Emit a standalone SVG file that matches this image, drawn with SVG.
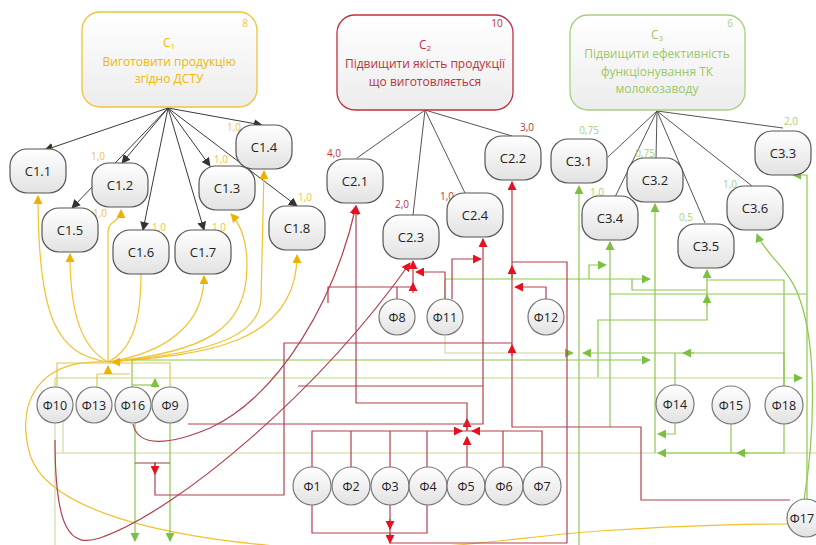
<svg xmlns="http://www.w3.org/2000/svg" width="816" height="545" viewBox="0 0 816 545">
<defs>
<linearGradient id="gf" x1="0" y1="0" x2="0" y2="1"><stop offset="0" stop-color="#ffffff"/><stop offset="1" stop-color="#e2e2e2"/></linearGradient>
<linearGradient id="gb" x1="0" y1="0" x2="0" y2="1"><stop offset="0" stop-color="#ffffff"/><stop offset="1" stop-color="#ececec"/></linearGradient>
<marker id="ab" viewBox="0 0 10 10" refX="9" refY="5" markerWidth="9" markerHeight="9" markerUnits="userSpaceOnUse" orient="auto"><polygon points="0,0 10,5 0,10" fill="#333"/></marker>
<marker id="ay" viewBox="0 0 10 10" refX="9" refY="5" markerWidth="9" markerHeight="9" markerUnits="userSpaceOnUse" orient="auto"><polygon points="0,0 10,5 0,10" fill="#f0b000"/></marker>
<marker id="ar" viewBox="0 0 10 10" refX="9" refY="5" markerWidth="9" markerHeight="9" markerUnits="userSpaceOnUse" orient="auto"><polygon points="0,0 10,5 0,10" fill="#e8101c"/></marker>
<marker id="ag" viewBox="0 0 10 10" refX="9" refY="5" markerWidth="9" markerHeight="9" markerUnits="userSpaceOnUse" orient="auto"><polygon points="0,0 10,5 0,10" fill="#7cc040"/></marker>
</defs>
<style>
text{font-family:"Open Sans","Noto Sans","Liberation Sans",sans-serif;text-anchor:middle}
.goal rect{fill:url(#gb);stroke-width:1.3}
.sub rect{fill:url(#gf);stroke:#555;stroke-width:1.2}
.sub text{font-size:13px;fill:#222}
.phi circle{fill:url(#gf);stroke:#777;stroke-width:1.2}
.phi text{font-size:12.5px;fill:#222}
.gt{font-size:12px}
#connectors path{fill:none}
.k{stroke:#3a3a3a;stroke-width:1}
.kg{stroke:#555;stroke-width:1}
.y{stroke:#f2c12e;stroke-width:1.2}
.yo{stroke:#e0c850;stroke-width:1.2}
.r{stroke:#b2404d;stroke-width:1.2}
.g{stroke:#8cc84b;stroke-width:1.2}
.gl{stroke:#b8d98e;stroke-width:1.1}
.ol{stroke:#cdd69a;stroke-width:1.1}
.br{stroke:#8b4a40;stroke-width:1.2}
.wy{font-size:10px;fill:#f0c43a}
.wr{font-size:10px;fill:#c0303a}
.wg{font-size:10px;fill:#a8cf78}
</style>
<rect width="816" height="545" fill="#ffffff"/>

<g id="connectors">
<!-- C1 decomposition -->
<path class="k" marker-end="url(#ab)" d="M168,108 L45,150"/>
<path class="k" marker-end="url(#ab)" d="M168,108 L122,163"/>
<path class="k" marker-end="url(#ab)" d="M168,108 L72,208"/>
<path class="k" marker-end="url(#ab)" d="M168,108 L143,230"/>
<path class="k" marker-end="url(#ab)" d="M168,108 L204,230"/>
<path class="k" marker-end="url(#ab)" d="M168,108 L210,166"/>
<path class="k" marker-end="url(#ab)" d="M168,108 L262,125"/>
<path class="k" marker-end="url(#ab)" d="M168,108 L297,206"/>
<!-- C2 decomposition -->
<path class="kg" d="M425,110 L357,158 M425,110 L413,215 M425,110 L465,193 M425,110 L512,136"/>
<!-- C3 decomposition -->
<path class="kg" d="M657,111 L608,157 M657,111 L615,197 M657,111 L656,158 M657,111 L705,223 M657,111 L752,186 M657,111 L783,128"/>

<!-- yellow -->
<path class="y" marker-end="url(#ay)" d="M108,362 C58,354 38,322 38,196"/>
<path class="y" marker-end="url(#ay)" d="M108,362 C82,348 70,315 70,254"/>
<path class="y" marker-end="url(#ay)" d="M108,362 V232 C108,220 121,222 121,210"/>
<path class="y" d="M141,274 C141,330 128,352 108,362"/>
<path class="y" marker-end="url(#ay)" d="M108,362 C170,352 204,322 204,276"/>
<path class="y" marker-end="url(#ay)" d="M108,362 C205,352 247,330 247,265 C247,238 240,224 231,214"/>
<path class="y" marker-end="url(#ay)" d="M108,362 C200,354 258,340 261,300 L264,171"/>
<path class="y" marker-end="url(#ay)" d="M108,362 C190,355 297,350 297,255"/>
<path class="y" d="M104,362 C40,360 15,400 30,455 C48,510 160,538 300,548 C420,556 520,536 600,531 C690,525 750,524 790,524"/>
<path class="yo" d="M57,387 V363 H170 V387"/>
<path class="yo" d="M97,387 V374 H130"/>
<path class="y" marker-end="url(#ay)" d="M122,362 H112"/>
<path class="y" marker-end="url(#ay)" d="M108,374 V366"/>

<!-- green / olive -->
<path class="g" marker-end="url(#ag)" d="M132,387 V360 H650"/>
<path class="g" d="M132,385 H155"/>
<path class="g" marker-end="url(#ag)" d="M155,388 V379"/>
<path class="gl" marker-end="url(#ag)" d="M55,387 V378 H802"/>
<path class="ol" d="M55,423 V545 M63,422 V453 M55,453 H816"/>
<path class="g" marker-end="url(#ag)" d="M135,423 V541"/>
<path class="g" marker-end="url(#ag)" d="M170,423 V541"/>
<path class="g" marker-end="url(#ag)" d="M579,545 V186"/>
<path class="g" marker-end="url(#ag)" d="M610,427 V242"/>
<path class="g" marker-end="url(#ag)" d="M655,453 V204"/>
<path class="g" marker-end="url(#ag)" d="M807,499 V175 H793"/>
<path class="g" marker-end="url(#ag)" d="M598,377 V320 H707 V270"/>
<path class="g" marker-end="url(#ag)" d="M707,305 V295"/>
<path class="g" d="M632,279 V290 H707"/>
<path class="g" d="M784,387 V280 H707"/>
<path class="g" marker-end="url(#ag)" d="M589,279 V265 H606"/>
<path class="ol" d="M445,299 V279"/>
<path class="g" marker-end="url(#ag)" d="M445,279 H650"/>
<path class="g" d="M610,294 H807"/>
<path class="ol" marker-end="url(#ag)" d="M445,336 V353 H573"/>
<path class="g" marker-end="url(#ag)" d="M784,387 V353 H583"/>
<path class="g" marker-end="url(#ag)" d="M694,353 H683"/>
<path class="g" d="M675,386 V353"/>
<path class="g" marker-end="url(#ag)" d="M675,423 V434 H658"/>
<path class="g" d="M731,423 V453"/>
<path class="g" marker-end="url(#ag)" d="M784,423 V453 H658"/>
<path class="g" marker-end="url(#ag)" d="M748,453 H737"/>
<path class="g" marker-end="url(#ag)" d="M804,500 C814,440 818,350 800,300 C790,268 765,255 757,234"/>

<!-- red -->
<path class="r" d="M312,467 V431 H542 V467 M351,467 V431 M390,467 V431 M427,467 V431 M503,467 V431"/>
<path class="r" marker-end="url(#ar)" d="M467,467 V437"/>
<path class="r" marker-end="url(#ar)" d="M454,431 H462"/>
<path class="r" marker-end="url(#ar)" d="M480,431 H472"/>
<path class="r" marker-end="url(#ar)" d="M467,431 V403 H356 V206"/>
<path class="r" marker-end="url(#ar)" d="M467,430 V419"/>
<path class="r" marker-end="url(#ar)" d="M188,424 H483 V239"/>
<path class="r" d="M298,386 H483"/>
<path class="r" d="M512,343 H284 V495 H155 V463"/>
<path class="r" marker-end="url(#ar)" d="M155,462 V474"/>
<path class="br" d="M135,463 H170"/>
<path class="r" marker-end="url(#ar)" d="M790,500 H641 V427 H512 V182"/>
<path class="r" marker-end="url(#ar)" d="M512,356 V345"/>
<path class="r" d="M312,505 V533 H427 V505 M390,505 V543 H567 V262 H512"/>
<path class="r" marker-end="url(#ar)" d="M512,278 V266"/>
<path class="r" marker-end="url(#ar)" d="M390,519 V529"/>
<path class="r" marker-end="url(#ar)" d="M390,533 V543"/>
<path class="r" marker-end="url(#ar)" d="M546,299 V287 H515"/>
<path class="r" marker-end="url(#ar)" d="M452,299 V259 H481"/>
<path class="r" marker-end="url(#ar)" d="M445,299 V272 H416"/>
<path class="r" d="M397,299 V287 H328 V303"/>
<path class="r" marker-end="url(#ar)" d="M397,287 H413 V261"/>
<path class="r" marker-end="url(#ar)" d="M413,293 V283"/>
<path class="r" marker-end="url(#ar)" d="M133,424 C138,448 170,445 210,428 C280,395 335,300 356,206"/>
<path class="r" marker-end="url(#ar)" d="M55,440 C55,530 70,548 100,538 C180,510 320,390 410,263"/>
</g>

<g id="weights">
<text class="wy" x="48" y="156">1,0</text>
<text class="wy" x="98" y="160">1,0</text>
<text class="wy" x="100" y="217">1,0</text>
<text class="wy" x="159" y="231">1,0</text>
<text class="wy" x="219" y="231">1,0</text>
<text class="wy" x="221" y="163">1,0</text>
<text class="wy" x="234" y="131">1,0</text>
<text class="wy" x="305" y="201">1,0</text>
<text class="wr" x="334" y="157">4,0</text>
<text class="wr" x="402" y="208">2,0</text>
<text class="wr" x="447" y="200">1,0</text>
<text class="wr" x="527" y="131">3,0</text>
<text class="wg" x="589" y="134">0,75</text>
<text class="wg" x="645" y="157">0,75</text>
<text class="wg" x="597" y="196">1,0</text>
<text class="wg" x="686" y="221">0,5</text>
<text class="wg" x="730" y="188">1,0</text>
<text class="wg" x="791" y="125">2,0</text>
</g>

<g id="C1" class="goal">
<rect x="82" y="12" width="175" height="95" rx="18" stroke="#f0c43a"/>
<text class="gt" x="245" y="27" fill="#f0c43a" style="font-size:10px">8</text>
<text class="gt" x="169" y="47" fill="#f0b800">C<tspan font-size="8" dy="2">1</tspan></text>
<text class="gt" x="169" y="66" fill="#f0b800">Виготовити продукцію</text>
<text class="gt" x="169" y="83" fill="#f0b800">згідно ДСТУ</text>
</g>
<g id="C2" class="goal">
<rect x="337" y="15" width="176" height="95" rx="18" stroke="#c0303a"/>
<text class="gt" x="497" y="27" fill="#c0303a" style="font-size:10px">10</text>
<text class="gt" x="425" y="49" fill="#c0303a">C<tspan font-size="8" dy="2">2</tspan></text>
<text class="gt" x="425" y="68" fill="#c0303a">Підвищити якість продукції</text>
<text class="gt" x="425" y="86" fill="#c0303a">що виготовляється</text>
</g>
<g id="C3" class="goal">
<rect x="570" y="15" width="175" height="95" rx="18" stroke="#a8d080"/>
<text class="gt" x="730" y="27" fill="#a8d080" style="font-size:10px">6</text>
<text class="gt" x="657" y="39" fill="#98c868">C<tspan font-size="8" dy="2">3</tspan></text>
<text class="gt" x="657" y="58" fill="#98c868">Підвищити ефективність</text>
<text class="gt" x="657" y="76" fill="#98c868">функціонування ТК</text>
<text class="gt" x="657" y="93" fill="#98c868">молокозаводу</text>
</g>

<g id="C1.1" class="sub"><rect x="10" y="149" width="56" height="44" rx="17"/><text x="38" y="176">C1.1</text></g>
<g id="C1.2" class="sub"><rect x="92" y="163" width="56" height="44" rx="17"/><text x="120" y="190">C1.2</text></g>
<g id="C1.3" class="sub"><rect x="199" y="166" width="56" height="44" rx="17"/><text x="227" y="193">C1.3</text></g>
<g id="C1.4" class="sub"><rect x="236" y="125" width="56" height="44" rx="17"/><text x="264" y="152">C1.4</text></g>
<g id="C1.5" class="sub"><rect x="42" y="208" width="56" height="44" rx="17"/><text x="70" y="235">C1.5</text></g>
<g id="C1.6" class="sub"><rect x="113" y="230" width="56" height="44" rx="17"/><text x="141" y="257">C1.6</text></g>
<g id="C1.7" class="sub"><rect x="175" y="230" width="56" height="44" rx="17"/><text x="203" y="257">C1.7</text></g>
<g id="C1.8" class="sub"><rect x="269" y="206" width="56" height="44" rx="17"/><text x="297" y="233">C1.8</text></g>
<g id="C2.1" class="sub"><rect x="327" y="159" width="56" height="44" rx="17"/><text x="355" y="186">C2.1</text></g>
<g id="C2.2" class="sub"><rect x="485" y="136" width="56" height="44" rx="17"/><text x="513" y="163">C2.2</text></g>
<g id="C2.3" class="sub"><rect x="383" y="215" width="56" height="44" rx="17"/><text x="411" y="242">C2.3</text></g>
<g id="C2.4" class="sub"><rect x="447" y="193" width="56" height="44" rx="17"/><text x="475" y="220">C2.4</text></g>
<g id="C3.1" class="sub"><rect x="551" y="139" width="56" height="44" rx="17"/><text x="579" y="166">C3.1</text></g>
<g id="C3.2" class="sub"><rect x="627" y="158" width="56" height="44" rx="17"/><text x="655" y="185">C3.2</text></g>
<g id="C3.3" class="sub"><rect x="755" y="131" width="56" height="44" rx="17"/><text x="783" y="158">C3.3</text></g>
<g id="C3.4" class="sub"><rect x="582" y="196" width="56" height="44" rx="17"/><text x="610" y="223">C3.4</text></g>
<g id="C3.5" class="sub"><rect x="678" y="224" width="56" height="44" rx="17"/><text x="706" y="251">C3.5</text></g>
<g id="C3.6" class="sub"><rect x="727" y="186" width="56" height="44" rx="17"/><text x="755" y="213">C3.6</text></g>

<g id="F10" class="phi"><circle cx="55" cy="405" r="18"/><text x="55" y="409.5">Φ10</text></g>
<g id="F13" class="phi"><circle cx="94" cy="405" r="18"/><text x="94" y="409.5">Φ13</text></g>
<g id="F16" class="phi"><circle cx="133" cy="405" r="18"/><text x="133" y="409.5">Φ16</text></g>
<g id="F9" class="phi"><circle cx="170" cy="405" r="18"/><text x="170" y="409.5">Φ9</text></g>
<g id="F8" class="phi"><circle cx="397" cy="317" r="18"/><text x="397" y="321.5">Φ8</text></g>
<g id="F11" class="phi"><circle cx="445" cy="317" r="18"/><text x="445" y="321.5">Φ11</text></g>
<g id="F12" class="phi"><circle cx="546" cy="317" r="18"/><text x="546" y="321.5">Φ12</text></g>
<g id="F1" class="phi"><circle cx="312" cy="486" r="19"/><text x="312" y="490.5">Φ1</text></g>
<g id="F2" class="phi"><circle cx="351" cy="486" r="19"/><text x="351" y="490.5">Φ2</text></g>
<g id="F3" class="phi"><circle cx="390" cy="486" r="19"/><text x="390" y="490.5">Φ3</text></g>
<g id="F4" class="phi"><circle cx="428" cy="486" r="19"/><text x="428" y="490.5">Φ4</text></g>
<g id="F5" class="phi"><circle cx="466" cy="486" r="19"/><text x="466" y="490.5">Φ5</text></g>
<g id="F6" class="phi"><circle cx="504" cy="486" r="19"/><text x="504" y="490.5">Φ6</text></g>
<g id="F7" class="phi"><circle cx="542" cy="486" r="19"/><text x="542" y="490.5">Φ7</text></g>
<g id="F14" class="phi"><circle cx="675" cy="404" r="19"/><text x="675" y="408.5">Φ14</text></g>
<g id="F15" class="phi"><circle cx="731" cy="405" r="19"/><text x="731" y="409.5">Φ15</text></g>
<g id="F18" class="phi"><circle cx="784" cy="405" r="19"/><text x="784" y="409.5">Φ18</text></g>
<g id="F17" class="phi"><circle cx="806" cy="518" r="19"/><text x="802" y="522.5">Φ17</text></g>
</svg>
